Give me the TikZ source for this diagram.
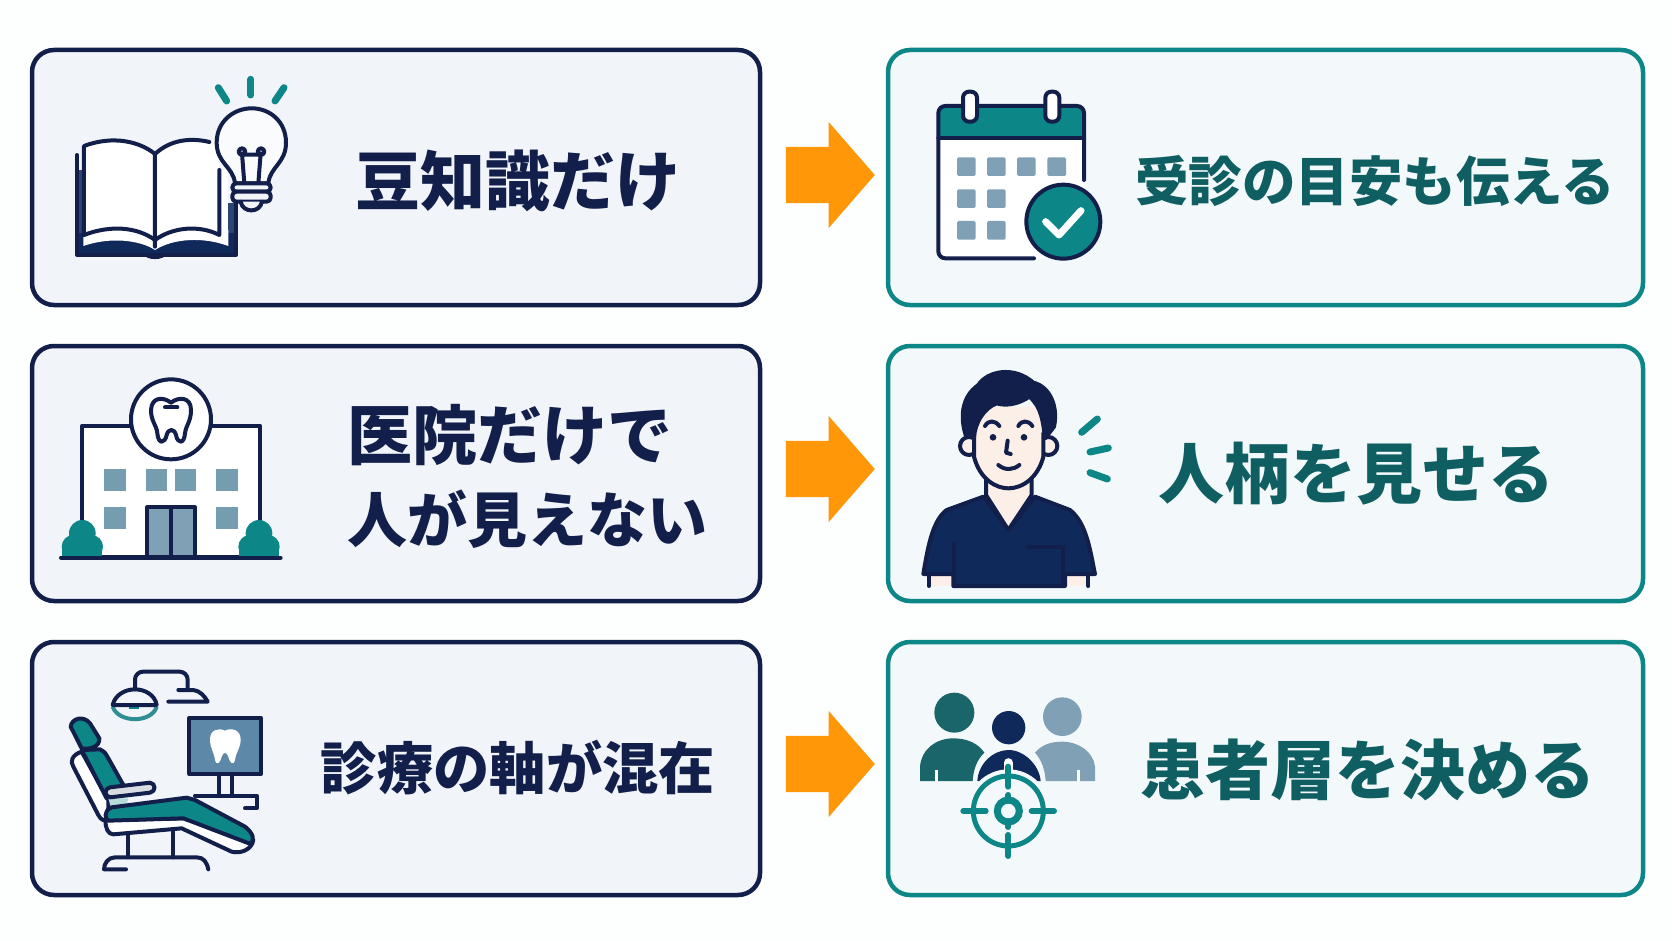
\documentclass[tikz,border=0pt]{standalone}
\usepackage{fontspec}
\usetikzlibrary{shapes.arrows}
\newfontfamily\cjkfont{Noto Sans CJK JP}
\definecolor{navy}{HTML}{131F4B}
\definecolor{coat}{HTML}{0F2A5A}
\definecolor{teal1}{HTML}{0D8688}
\definecolor{tealtext}{HTML}{0F5E62}
\definecolor{slate}{HTML}{7FA0B5}
\definecolor{screen}{HTML}{5E88A8}
\definecolor{cardleft}{HTML}{F1F4F9}
\definecolor{cardright}{HTML}{F3F9FB}
\definecolor{skin}{HTML}{FCEFE8}
\definecolor{orange1}{HTML}{FF9708}
\tikzset{
  cardL/.style={draw=navy, fill=cardleft, line width=4.5pt, rounded corners=22pt, minimum width=728pt, inner sep=0pt},
  cardR/.style={draw=teal1, fill=cardright, line width=4.5pt, rounded corners=22pt, minimum width=755pt, inner sep=0pt},
  blockarrow/.style={shape=single arrow, fill=orange1, inner xsep=0pt, inner ysep=28pt, minimum height=89pt, minimum width=106pt,
    single arrow head extend=25pt, single arrow tip angle=98},
  labelL/.style={text=navy, font=\cjkfont\bfseries\fontsize{#1}{84}\selectfont, inner sep=0pt},
  labelR/.style={text=tealtext, font=\cjkfont\bfseries\fontsize{#1}{84}\selectfont, inner sep=0pt},
  ink/.style={draw=navy, line width=4pt, line join=round, line cap=round},
  ray/.style={draw=teal1, line width=7pt, line cap=round},
}
\begin{document}
\begin{tikzpicture}[x=1pt, y=-1pt]
  \useasboundingbox (0,0) rectangle (1672,941);
  \fill[white!99!teal1] (0,0) rectangle (1672,941);

  % cards
  \node[cardL, minimum height=255pt] (probA) at (396,177.5) {};
  \node[cardL, minimum height=255pt] (probB) at (396,473.5) {};
  \node[cardL, minimum height=253pt] (probC) at (396,768.5) {};
  \node[cardR, minimum height=255pt] (fixA) at (1265.5,177.5) {};
  \node[cardR, minimum height=255pt] (fixB) at (1265.5,473.5) {};
  \node[cardR, minimum height=253pt] (fixC) at (1265.5,768.5) {};

  % arrows
  \node[blockarrow] (arrA) at (818,175) {};
  \node[blockarrow] (arrB) at (818,469) {};
  \node[blockarrow] (arrC) at (818,764) {};

  % book and bulb
  \begin{scope}[shift={(0,20)}, scale=1/3]
    \fill[coat!75!slate] (231,450) rectangle (252,680);
    \fill[coat!75!slate] (685,550) rectangle (708,680);
    \fill[coat] (231,705) -- (231,640) -- (708,640) -- (708,705) -- cycle;
    \fill[navy] (430,703) .. controls (440,722) and (490,722) .. (500,703) -- cycle;
    \draw[ink] (231,405) -- (231,705) -- (708,705) -- (708,550);
    \fill[white] (250,630) -- (250,678) .. controls (330,650) and (420,660) .. (465,690) .. controls (520,655) and (610,650) .. (685,678) -- (685,630) -- cycle;
    \fill[white] (658,450) rectangle (685,640);
    \fill[white] (252,378) .. controls (340,345) and (420,365) .. (465,402) .. controls (510,360) and (570,355) .. (658,365) -- (658,645) .. controls (600,615) and (520,620) .. (465,660) .. controls (410,620) and (330,615) .. (252,645) -- cycle;
    \draw[ink] (252,645) -- (252,378) .. controls (340,345) and (420,365) .. (465,402) -- (465,680);
    \draw[ink] (465,402) .. controls (510,360) and (570,352) .. (628,366);
    \draw[ink] (658,450) -- (658,645) .. controls (600,615) and (520,620) .. (465,660) .. controls (410,620) and (330,615) .. (252,645);
    % bulb
    \filldraw[ink, fill=cardleft!40!white] (705,490) .. controls (700,440) and (650,430) .. (650,368) .. controls (650,305) and (700,265) .. (755,265) .. controls (810,265) and (858,305) .. (858,368) .. controls (858,430) and (810,440) .. (805,490) -- cycle;
    \draw[ink] (733,490) -- (726,400) (775,490) -- (782,400) (726,404) -- (782,404);
    \draw[ink] (726,395) circle (10) (783,395) circle (10);
    \filldraw[ink, fill=cardleft, rounded corners=4pt] (697,490) rectangle (812,515);
    \filldraw[ink, fill=cardleft, rounded corners=4pt] (697,515) rectangle (812,545);
    \filldraw[ink, fill=cardleft] (722,545) .. controls (728,580) and (780,580) .. (786,545);
    \draw[ray] (655,203) -- (680,243);
    \draw[ray] (753,178) -- (753,225);
    \draw[ray] (852,203) -- (825,243);
  \end{scope}

  % calendar
  \begin{scope}[shift={(880,20)}, scale=1/3]
    \fill[white, rounded corners=7pt] (175,258) rectangle (612,715);
    \fill[teal1, rounded corners=7pt] (175,258) -- (612,258) -- (612,355) -- (175,355) -- cycle;
    \draw[ink, rounded corners=7pt] (462,715) -- (175,715) -- (175,258) -- (612,258) -- (612,480);
    \draw[ink] (175,355) -- (612,355);
    \filldraw[ink, fill=white, rounded corners=6pt] (249,215) rectangle (291,305);
    \filldraw[ink, fill=white, rounded corners=6pt] (496,215) rectangle (538,305);
    \foreach \x in {231,321,411,502} \fill[slate, rounded corners=1.5pt] (\x,412) rectangle ++(56,56);
    \foreach \x in {231,321} {
      \fill[slate, rounded corners=1.5pt] (\x,508) rectangle ++(56,56);
      \fill[slate, rounded corners=1.5pt] (\x,603) rectangle ++(56,56);
    }
    \filldraw[ink, fill=teal1] (550,605) circle (111);
    \draw[white, line width=7pt, line cap=round, line join=round] (497,605) -- (537,645) -- (603,572);
  \end{scope}

  % clinic
  \begin{scope}[shift={(40,350)}, scale=1/3]
    \filldraw[ink, fill=white] (127,227) rectangle (660,622);
    \foreach \x/\w in {192/66,319/61,406/61,528/65} \fill[slate!90!teal1] (\x,357) rectangle ++(\w,66);
    \foreach \x in {192,528} \fill[slate!90!teal1] (\x,470) rectangle ++(65,67);
    \filldraw[ink, fill=slate] (322,472) rectangle (465,622);
    \draw[ink] (393,472) -- (393,622);
    \filldraw[ink, fill=white] (393,208) circle (120);
    \draw[ink] (393,158) .. controls (370,140) and (335,140) .. (333,180) .. controls (333,215) and (350,225) .. (352,250) .. controls (355,285) and (375,280) .. (380,255) .. controls (385,235) and (403,235) .. (408,255) .. controls (412,280) and (432,285) .. (435,250) .. controls (438,225) and (453,215) .. (453,180) .. controls (453,140) and (415,140) .. (393,158);
    \draw[ink] (375,172) -- (412,172);
    \foreach \x in {127,657} {
      \fill[teal1] (\x,550) circle (40);
      \fill[teal1] (\x-27,590) circle (35);
      \fill[teal1] (\x+27,590) circle (35);
      \fill[teal1] (\x-60,620) rectangle (\x+60,590);
    }
    \draw[ink] (63,623) -- (722,623);
  \end{scope}

  % doctor
  \begin{scope}[shift={(900,350)}, scale=1/3]
    \fill[skin] (87,672) rectangle (160,708);
    \fill[skin] (495,672) rectangle (565,708);
    \draw[ink] (87,672) -- (87,708) (565,672) -- (565,708);
    \filldraw[ink, fill=skin] (258,390) -- (258,435) -- (325,540) -- (395,435) -- (395,390) -- cycle;
    \filldraw[ink, fill=coat] (70,672) .. controls (85,580) and (100,510) .. (140,480) -- (250,440) -- (325,540) -- (405,440) -- (510,480) .. controls (560,520) and (570,600) .. (585,672) -- (495,672) -- (495,708) -- (160,708) -- (160,672) -- cycle;
    \draw[ink] (163,580) -- (163,708) (383,590) -- (490,590) -- (490,708);
    \filldraw[ink, fill=skin] (207,288) circle (27);
    \filldraw[ink, fill=skin] (445,288) circle (27);
    \fill[skin] (222,170) -- (222,320) .. controls (240,390) and (290,415) .. (325,415) .. controls (370,415) and (415,380) .. (430,320) -- (430,170) -- cycle;
    \draw[ink] (222,250) -- (222,320) .. controls (240,390) and (290,415) .. (325,415) .. controls (370,415) and (415,380) .. (430,320) -- (430,250);
    \filldraw[ink, fill=navy] (197,255) .. controls (180,200) and (185,140) .. (235,105) .. controls (260,65) and (340,45) .. (400,98) .. controls (450,110) and (475,170) .. (462,230) -- (435,265) .. controls (430,220) and (425,170) .. (388,140) .. controls (360,160) and (320,170) .. (290,160) .. controls (250,175) and (225,220) .. (222,262) -- cycle;
    \draw[ink] (255,228) .. controls (265,210) and (285,210) .. (298,228);
    \draw[ink] (355,228) .. controls (365,210) and (385,210) .. (397,228);
    \fill[navy] (279,262) circle (10) (372,262) circle (10);
    \draw[ink] (323,272) -- (318,308) -- (332,312);
    \draw[ink] (295,345) .. controls (315,362) and (340,360) .. (358,345);
    \draw[ray] (545,247) -- (592,207);
    \draw[ray] (570,306) -- (625,294);
    \draw[ray] (570,368) -- (622,387);
  \end{scope}

  % dental chair
  \begin{scope}[shift={(40,650)}, scale=1/3]
    \draw[ink, rounded corners=8pt] (285,118) -- (285,65) -- (443,65) -- (443,118);
    \draw[ink] (415,120) -- (460,120) .. controls (480,122) and (495,140) .. (503,155) -- (385,155);
    \draw[draw=teal1!70!slate, line width=4pt] (218,170) .. controls (235,220) and (335,220) .. (350,170);
    \fill[teal1] (268,165) rectangle (298,178);
    \draw[ink] (218,165) .. controls (225,135) and (255,118) .. (285,118) .. controls (315,118) and (345,135) .. (350,165) -- cycle;
    \filldraw[ink, fill=screen] (448,204) rectangle (663,372);
    \fill[white] (555,242) .. controls (535,232) and (510,240) .. (510,268) .. controls (510,295) and (522,305) .. (525,330) .. controls (530,348) and (540,340) .. (545,320) .. controls (550,305) and (560,305) .. (565,320) .. controls (570,340) and (580,348) .. (585,330) .. controls (588,305) and (602,295) .. (602,268) .. controls (602,240) and (575,232) .. (555,242) -- cycle;
    \draw[ink] (538,372) -- (538,435) (575,372) -- (575,435);
    \draw[ink] (465,437) -- (650,437) -- (650,475) -- (615,475);
    \filldraw[ink, fill=white] (125,305) .. controls (95,315) and (90,335) .. (100,350) -- (175,495) .. controls (182,510) and (195,515) .. (205,510) -- (205,450) -- cycle;
    \filldraw[ink, fill=teal1] (125,300) -- (180,298) .. controls (195,305) and (200,315) .. (205,325) -- (250,405) -- (200,445) -- cycle;
    \fill[teal1!30] (205,445) -- (265,445) -- (260,462) -- (212,470) -- cycle;
    \filldraw[ink, fill=teal1] (92,230) .. controls (95,205) and (130,195) .. (150,220) -- (178,265) .. controls (180,290) and (150,300) .. (125,295) -- cycle;
    \filldraw[ink, fill=cardleft!90!black] (210,412) -- (330,398) .. controls (348,400) and (348,425) .. (330,428) -- (210,442) .. controls (192,440) and (192,415) .. (210,412) -- cycle;
    \draw[ink] (263,553) -- (263,622) (400,545) -- (400,622);
    \filldraw[ink, fill=white] (197,510) .. controls (195,535) and (205,553) .. (220,553) -- (425,535) -- (575,605) .. controls (600,612) and (635,600) .. (640,570) -- (430,505) -- cycle;
    \filldraw[ink, fill=teal1] (197,495) .. controls (200,480) and (205,475) .. (215,472) -- (440,443) -- (465,450) -- (615,530) .. controls (640,550) and (645,570) .. (632,582) -- (430,505) -- (205,512) .. controls (200,510) and (197,505) .. (197,495) -- cycle;
    \draw[ink] (505,658) .. controls (500,635) and (490,622) .. (470,622) -- (225,622) .. controls (205,622) and (192,640) .. (192,658) -- (258,658);
  \end{scope}

  % group and target
  \begin{scope}[shift={(900,670)}, scale=1/3]
    \fill[tealtext!90!slate] (163,128) circle (60);
    \fill[tealtext!90!slate] (60,333) -- (60,290) .. controls (65,235) and (110,205) .. (160,205) .. controls (200,205) and (235,220) .. (253,248) .. controls (230,270) and (220,300) .. (218,333) -- cycle;
    \fill[slate] (487,140) circle (58);
    \fill[slate] (585,333) -- (585,290) .. controls (580,245) and (535,215) .. (487,215) .. controls (450,215) and (425,225) .. (405,248) .. controls (425,270) and (435,300) .. (437,333) -- cycle;
    \draw[white, line width=3pt] (108,300) -- (108,335) (535,300) -- (535,335);
    \fill[coat] (326,173) circle (50);
    \fill[coat] (232,333) .. controls (235,280) and (280,240) .. (326,240) .. controls (372,240) and (418,285) .. (422,333) -- cycle;
    \fill[cardright] (325,423) circle (125);
    \draw[white, line width=9pt, line cap=round] (325,278) -- (325,320);
    \draw[teal1, line width=5pt] (325,423) circle (105);
    \draw[teal1, line width=7pt] (325,423) circle (33);
    \draw[teal1, line width=6pt, line cap=round] (325,290) -- (325,350) (325,495) -- (325,558) (190,423) -- (257,423) (395,423) -- (462,423) (325,375) -- (325,392) (325,454) -- (325,471);
  \end{scope}

  % labels
  \node[labelL=65] (txtA) at (518,181) {豆知識だけ};
  \node[labelL=65, anchor=west] (txtB) at (347,435) {医院だけで};
  \node[labelL=60, anchor=west] (txtBB) at (347,519) {人が見えない};
  \node[labelL=56.3] (txtC) at (518,768) {診療の軸が混在};
  \node[labelR=53.5] (txtD) at (1375,181) {受診の目安も伝える};
  \node[labelR=66] (txtE) at (1356,474) {人柄を見せる};
  \node[labelR=65] (txtF) at (1368,770) {患者層を決める};
\end{tikzpicture}
\end{document}
